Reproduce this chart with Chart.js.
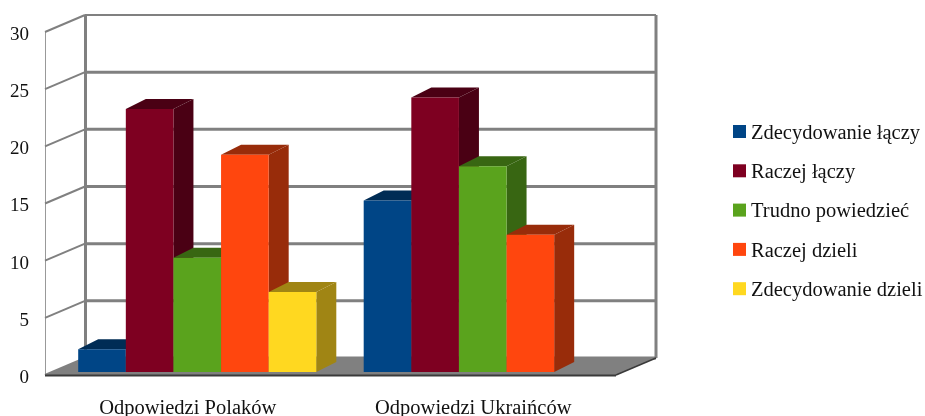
<!DOCTYPE html>
<html>
<head>
<meta charset="utf-8">
<style>
  body { margin: 0; background: #fff; }
  canvas { display: block; }
</style>
<script src="https://cdn.jsdelivr.net/npm/chart.js"></script>
</head>
<body>
<canvas id="chart" width="925" height="416"></canvas>
<script>
const categories = ["Odpowiedzi Polaków", "Odpowiedzi Ukraińców"];
const seriesNames = ["Zdecydowanie łączy", "Raczej łączy", "Trudno powiedzieć", "Raczej dzieli", "Zdecydowanie dzieli"];
const zdecydowanieLaczy = [2, 15];
const raczejLaczy = [23, 24];
const trudnoPowiedziec = [10, 18];
const raczejDzieli = [19, 12];
const zdecydowanieDzieli = [7, null];
const frontColors = ["#004586", "#7e0021", "#5aa31d", "#ff460e", "#ffd820"];
const sideColors = ["#002c55", "#4a0014", "#386612", "#982c0a", "#a08514"];

const seriesValues = [zdecydowanieLaczy, raczejLaczy, trudnoPowiedziec, raczejDzieli, zdecydowanieDzieli];

const FONT = '"Liberation Serif", serif';
const GRAY = "#808080";
// depth of the box and of the bars
const WALL_DX = 40, WALL_DY = -17;
const BAR_DX = 20, BAR_DY = -10;
const BAR_SHIFT_X = 9.5, BAR_SHIFT_Y = -3;

function line(ctx, x1, y1, x2, y2, width, color) {
  ctx.beginPath();
  ctx.moveTo(x1, y1);
  ctx.lineTo(x2, y2);
  ctx.lineWidth = width;
  ctx.strokeStyle = color;
  ctx.stroke();
}

function poly(ctx, pts, color) {
  ctx.beginPath();
  pts.forEach((p, i) => (i ? ctx.lineTo(p[0], p[1]) : ctx.moveTo(p[0], p[1])));
  ctx.closePath();
  ctx.fillStyle = color;
  ctx.fill();
}

const box3d = {
  id: "box3d",
  beforeDatasetsDraw(chart) {
    const { ctx, chartArea: a, scales } = chart;
    const bx = a.left + WALL_DX, bxr = a.right + WALL_DX;
    ctx.save();
    // floor
    const y0 = scales.y.getPixelForValue(0);
    poly(ctx, [[a.left, y0], [bx, y0 + WALL_DY], [bxr, y0 + WALL_DY], [a.right, y0]], GRAY);
    // walls
    line(ctx, a.left + 0.5, a.top, a.left + 0.5, y0, 1, "#999");
    line(ctx, bx + 0.5, a.top + WALL_DY, bx + 0.5, y0 + WALL_DY, 3, GRAY);
    line(ctx, bxr, a.top + WALL_DY, bxr, y0 + WALL_DY, 3, GRAY);
    scales.y.ticks.forEach(t => {
      const y = scales.y.getPixelForValue(t.value);
      line(ctx, a.left, y, bx, y + WALL_DY, 2, GRAY);
      line(ctx, bx, y + WALL_DY, bxr, y + WALL_DY, t.value === 30 ? 2 : 3, GRAY);
    });
    line(ctx, a.left, y0 + 0.5, a.right, y0 + 0.5, 2, "#3a3a3a");
    line(ctx, a.right, y0, bxr, y0 + WALL_DY, 1.5, "#3a3a3a");

    // bars left to right so that each front covers the side of the previous one
    ctx.translate(BAR_SHIFT_X, BAR_SHIFT_Y);
    const count = categories.length;
    for (let c = 0; c < count; c++) {
      chart.data.datasets.forEach((ds, i) => {
        const bar = chart.getDatasetMeta(i).data[c];
        if (bar.skip || ds.data[c] == null) return;
        const l = bar.x - bar.width / 2, r = bar.x + bar.width / 2;
        poly(ctx, [[r, bar.base], [r + BAR_DX, bar.base + BAR_DY], [r + BAR_DX, bar.y + BAR_DY], [r, bar.y]], sideColors[i]);
        poly(ctx, [[l, bar.y], [l + BAR_DX, bar.y + BAR_DY], [r + BAR_DX, bar.y + BAR_DY], [r, bar.y]], sideColors[i]);
        bar.draw(ctx);
      });
    }
    ctx.restore();
  },
  // the bars are painted above, in depth order
  beforeDatasetDraw() {
    return false;
  },
  afterDraw(chart) {
    const { ctx, scales } = chart;
    ctx.save();
    ctx.textBaseline = "middle";
    ctx.fillStyle = "#111";
    // y tick labels sit a little below their grid line
    ctx.font = "19px " + FONT;
    ctx.textAlign = "right";
    scales.y.ticks.forEach(t => {
      ctx.fillText(t.label, 29, scales.y.getPixelForValue(t.value) + 3);
    });
    // legend
    ctx.font = "20.5px " + FONT;
    ctx.textAlign = "left";
    chart.data.datasets.forEach((ds, i) => {
      const y = 131.5 + i * 39.3;
      ctx.fillStyle = frontColors[i];
      ctx.fillRect(733, y - 6.5, 13, 13);
      ctx.fillStyle = "#111";
      ctx.fillText(ds.label, 751, y + 2);
    });
    ctx.restore();
  },
};

new Chart(document.getElementById("chart"), {
  type: "bar",
  plugins: [box3d],
  data: {
    labels: categories,
    datasets: seriesNames.map((name, i) => ({
      label: name,
      data: seriesValues[i],
      backgroundColor: frontColors[i],
      borderWidth: 0,
    })),
  },
  options: {
    responsive: false,
    animation: false,
    layout: { padding: { top: 32, right: 309 } },
    plugins: { legend: { display: false }, tooltip: { enabled: false } },
    datasets: { bar: { barPercentage: 1, categoryPercentage: 0.834 } },
    scales: {
      x: {
        afterFit: s => { s.height = 41; },
        grid: { display: false },
        border: { display: false },
        ticks: { font: { family: FONT, size: 20.5 }, color: "#111", padding: 13 },
      },
      y: {
        min: 0,
        max: 30,
        afterFit: s => { s.width = 45; },
        grid: { display: false, drawTicks: false },
        border: { display: false },
        ticks: { display: false, stepSize: 5 },
      },
    },
  },
});
</script>
</body>
</html>
